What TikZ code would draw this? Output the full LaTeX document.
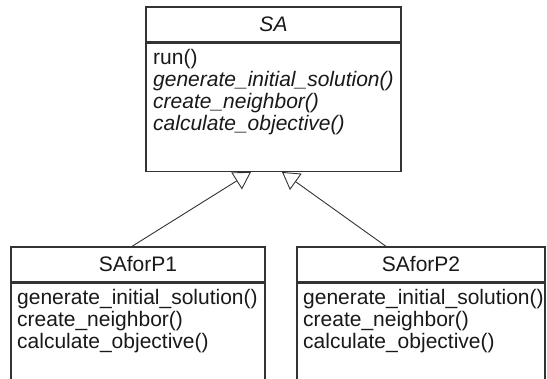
\documentclass[tikz,border=0pt]{standalone}
\usepackage{fontspec}
\setmainfont{Liberation Sans}
\usetikzlibrary{arrows.meta}

\begin{document}
\begin{tikzpicture}[x=1pt,y=-1pt,
  font=\fontsize{21}{22}\selectfont,
  cls/.style={draw=black!80,line width=1.3pt,inner sep=0pt,fill=white,text=black!90},
  op/.style={anchor=base west,inner sep=0pt,text=black!90},
  gen/.style={draw=black!80,line width=0.9pt,-{Triangle[open,length=17pt,width=20pt]}}]
\useasboundingbox (0,0) rectangle (547,379);
\clip (0,0) rectangle (547,379);

\node[cls,minimum width=255pt,minimum height=35pt] (sa) at (273.5,24.5) {\textit{SA}};
\node[cls,minimum width=255pt,minimum height=128pt,anchor=north] (sabody) at (sa.south) {};
\node[cls,minimum width=254pt,minimum height=35pt] (p1) at (138,264.5) {SAforP1};
\node[cls,minimum width=254pt,minimum height=130pt,anchor=north] (p1body) at (p1.south) {};
\node[cls,minimum width=248pt,minimum height=35pt] (p2) at (421,264.5) {SAforP2};
\node[cls,minimum width=248pt,minimum height=130pt,anchor=north] (p2body) at (p2.south) {};

\foreach \op [count=\i] in {run(),\textit{generate\_initial\_solution()},\textit{create\_neighbor()},\textit{calculate\_objective()}}
  \node[op] (saop\i) at (153,43+22*\i) {\op};
\foreach \op [count=\i] in {generate\_initial\_solution(),create\_neighbor(),calculate\_objective()} {
  \node[op] (p1op\i) at (17,283+22*\i) {\op};
  \node[op] (p2op\i) at (303,283+22*\i) {\op};
}

\draw[gen] ([xshift=-6pt]p1.north) -- ([xshift=-22.5pt]sabody.south);
\draw[gen] ([xshift=-35pt]p2.north) -- ([xshift=8.5pt]sabody.south);
\end{tikzpicture}
\end{document}
